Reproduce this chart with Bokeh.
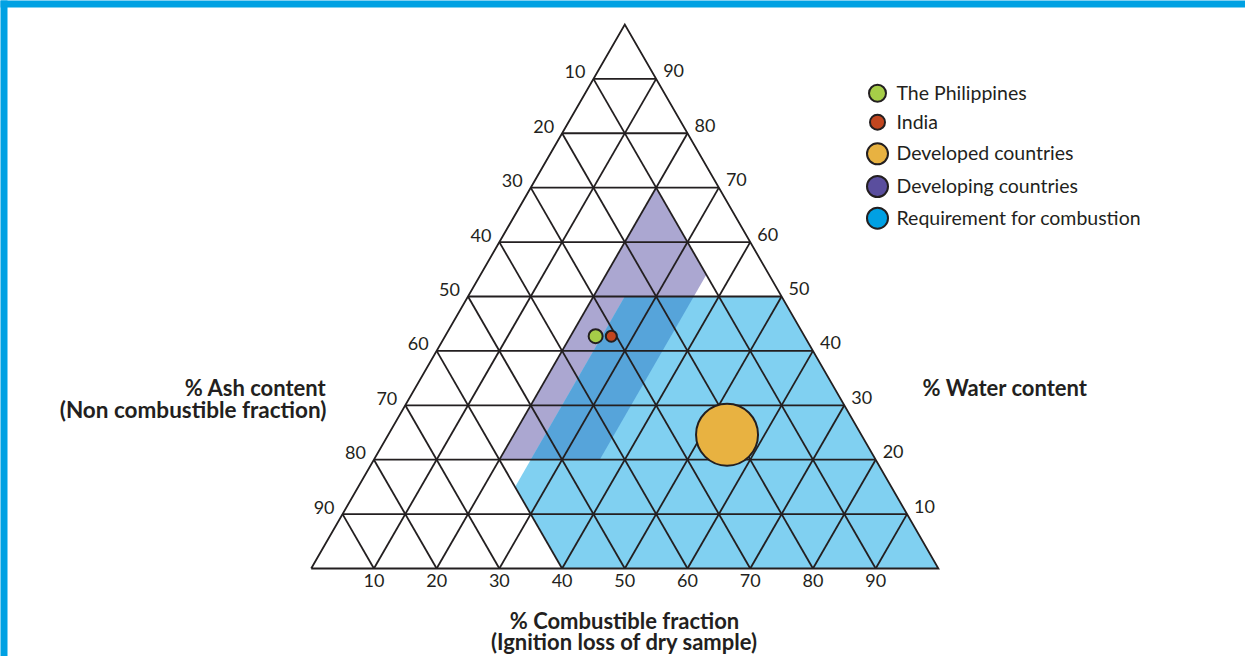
import math
from bokeh.plotting import figure
from bokeh.models import Range1d
from bokeh.core.properties import value
from bokeh.embed import file_html
from bokeh.resources import INLINE

# ---------------- data ----------------
grid_steps = [10, 20, 30, 40, 50, 60, 70, 80, 90]
combustible_ticks = ["10", "20", "30", "40", "50", "60", "70", "80", "90"]
ash_ticks = ["90", "80", "70", "60", "50", "40", "30", "20", "10"]      # left edge, bottom -> top
water_ticks = ["10", "20", "30", "40", "50", "60", "70", "80", "90"]    # right edge, bottom -> top

point_names = ["The Philippines", "India", "Developed countries"]
point_combustible = [24.0, 26.5, 54.0]
point_water = [42.7, 42.7, 24.6]
point_colors = ["#a6cd48", "#c2461f", "#e8b241"]
point_sizes = [14, 11, 62]

# regions (combustible %, water %)
requirement_c = [40, 100, 50, 25, 25]
requirement_w = [0, 0, 50, 50, 15]
developing_c = [20, 36, 36, 20]
developing_w = [20, 20, 54, 70]
overlap_c = [25, 36, 36, 25]
overlap_w = [20, 20, 50, 50]

legend_labels = ["The Philippines", "India", "Developed countries",
                 "Developing countries", "Requirement for combustion"]
legend_colors = ["#a6cd48", "#c2461f", "#e8b241", "#5a4e9e", "#00a0e3"]
legend_sizes = [17, 15, 21, 21, 21]

# ---------------- geometry ----------------
S3 = math.sqrt(3) / 2


def tx(c, w):
    return c + w / 2.0


def ty(c, w):
    return w * S3


W_PX, H_PX = 1245, 656
X0, Y0 = 310.7, 568.0        # pixel of bottom-left vertex
KX, KY = 6.272, 6.282        # pixels per unit
x_start, x_end = -X0 / KX, (W_PX - X0) / KX
y_end, y_start = Y0 / KY, (Y0 - H_PX) / KY


def px(xp, yp):
    return (xp - X0) / KX, (Y0 - yp) / KY


INK = "#231f20"
FONT = "Lato"

p = figure(width=W_PX, height=H_PX, output_backend="svg", toolbar_location=None,
           x_range=Range1d(x_start, x_end), y_range=Range1d(y_start, y_end),
           min_border=0, outline_line_color=None, background_fill_color="white")
p.axis.visible = False
p.xgrid.visible = False
p.ygrid.visible = False

# frame bars (top and left)
bx1, by1 = px(7, 7)
p.quad(left=x_start - 5, right=x_end + 5, top=y_end + 5, bottom=by1,
       fill_color="#00a1e3", line_color=None)
p.quad(left=x_start - 5, right=bx1, top=y_end + 5, bottom=y_start - 5,
       fill_color="#00a1e3", line_color=None)

# regions
p.patch([tx(c, w) for c, w in zip(developing_c, developing_w)],
        [ty(c, w) for c, w in zip(developing_c, developing_w)],
        fill_color="#aba7d1", line_color=None)
p.patch([tx(c, w) for c, w in zip(requirement_c, requirement_w)],
        [ty(c, w) for c, w in zip(requirement_c, requirement_w)],
        fill_color="#80d0f1", line_color=None)
p.patch([tx(c, w) for c, w in zip(overlap_c, overlap_w)],
        [ty(c, w) for c, w in zip(overlap_c, overlap_w)],
        fill_color="#56a4da", line_color=None)

# grid lines
xs, ys = [], []
for k in grid_steps:
    a, b = (0, k), (100 - k, k)
    xs.append([tx(*a), tx(*b)]); ys.append([ty(*a), ty(*b)])
    a, b = (k, 0), (k, 100 - k)
    xs.append([tx(*a), tx(*b)]); ys.append([ty(*a), ty(*b)])
    a, b = (100 - k, 0), (0, 100 - k)
    xs.append([tx(*a), tx(*b)]); ys.append([ty(*a), ty(*b)])
p.multi_line(xs, ys, line_color=INK, line_width=1.8)
tri = [(0, 0), (100, 0), (0, 100), (0, 0)]
p.line([tx(*v) for v in tri], [ty(*v) for v in tri], line_color=INK, line_width=1.8,
       line_join="miter")

# points
p.scatter([tx(c, w) for c, w in zip(point_combustible, point_water)],
          [ty(c, w) for c, w in zip(point_combustible, point_water)],
          size=point_sizes, fill_color=point_colors, line_color=INK, line_width=2)

# tick labels
p.text([tx(0, k) for k in grid_steps], [ty(0, k) for k in grid_steps], text=ash_ticks,
       text_align="right", text_baseline="middle", x_offset=-8, y_offset=-7,
       text_font=value(FONT), text_font_size="18px", text_color=INK)
p.text([tx(100 - k, k) for k in grid_steps], [ty(100 - k, k) for k in grid_steps],
       text=water_ticks, text_align="left", text_baseline="middle", x_offset=7,
       y_offset=-8, text_font=value(FONT), text_font_size="18px", text_color=INK)
p.text([tx(k, 0) for k in grid_steps], [ty(k, 0) for k in grid_steps],
       text=combustible_ticks, text_align="center", text_baseline="middle",
       y_offset=12, text_font=value(FONT), text_font_size="18px", text_color=INK)


def label(xp, yp, txt, align, size="22px", style="bold"):
    x, y = px(xp, yp)
    p.text([x], [y], text=[txt], text_align=align, text_baseline="middle",
           text_font=value(FONT), text_font_size=size, text_font_style=style,
           text_color=INK)


label(326, 387, "% Ash content", "right")
label(326, 409, "(Non combustible fraction)", "right", size="22.5px")
label(922, 387, "% Water content", "left")
label(624, 620, "% Combustible fraction", "center")
label(624, 641, "(Ignition loss of dry sample)", "center")

# legend
leg_y = [92.7, 121.7, 153.3, 186, 217.7]
lx = [px(877, yy)[0] for yy in leg_y]
ly = [px(877, yy)[1] for yy in leg_y]
p.scatter(lx, ly, size=legend_sizes, fill_color=legend_colors, line_color=INK, line_width=2)
tx_ = [px(896, yy - 1)[0] for yy in leg_y]
ty_ = [px(896, yy - 1)[1] for yy in leg_y]
p.text(tx_, ty_, text=legend_labels, text_align="left", text_baseline="middle",
       text_font=value(FONT), text_font_size="19.5px", text_color=INK)

open("out.html", "w").write(file_html(p, INLINE))
